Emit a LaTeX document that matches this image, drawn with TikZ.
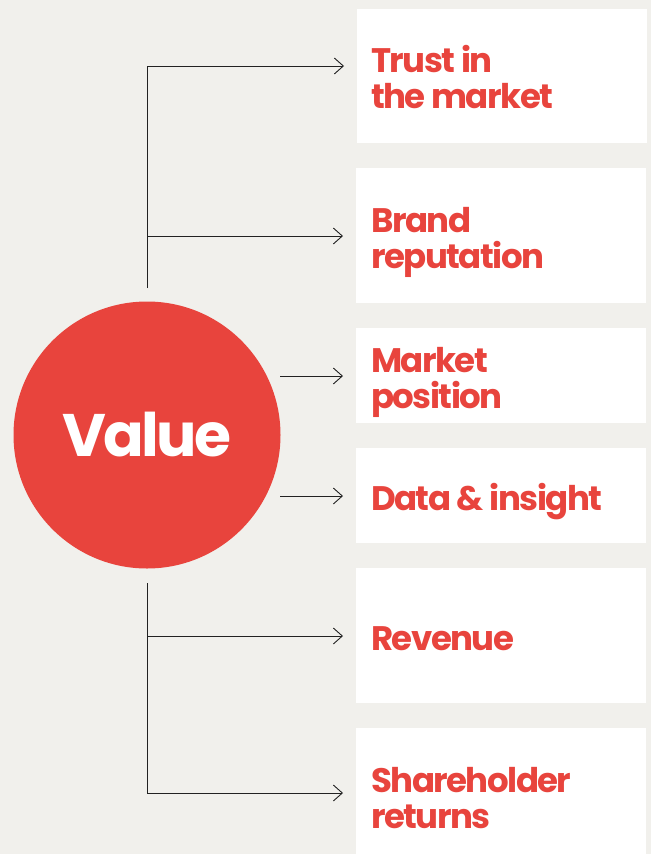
\documentclass[tikz,border=0pt]{standalone}
\usepackage{fontspec}
\setmainfont{Poppins}[LetterSpace=-4.5]
\usetikzlibrary{arrows.meta}
\definecolor{bg}{HTML}{F1F0EC}
\definecolor{vred}{HTML}{E8443D}
\definecolor{lnc}{HTML}{222222}
\tikzset{
  itembox/.style={fill=white, draw=none, anchor=north west, minimum width=290pt, inner sep=0pt},
  itemtext/.style={anchor=base west, inner sep=0pt, align=left, text=vred, font=\fontsize{34}{36}\selectfont\bfseries},
  link/.style={draw=lnc, line width=0.9pt, -{Straight Barb[length=9pt,width=16pt,line width=0.9pt]}},
  trunk/.style={draw=lnc, line width=0.9pt}
}
\begin{document}
\begin{tikzpicture}[x=1pt,y=-1pt]
\fill[bg] (0,0) rectangle (651,854);
\useasboundingbox (0,0) rectangle (651,854);
\begin{scope}
\clip (0,0) rectangle (651,854);
\node[itembox, minimum height=134pt] (b1) at (357,9) {};
\node[itembox, minimum height=135pt] (b2) at (356,168) {};
\node[itembox, minimum height=95pt] (b3) at (356,328) {};
\node[itembox, minimum height=95pt] (b4) at (356,448) {};
\node[itembox, minimum height=135pt] (b5) at (356,568) {};
\node[itembox, minimum height=140pt] (b6) at (356,728) {};
\end{scope}
\node[itemtext] (l1) at (371,108) {Trust in\\the market};
\node[itemtext] (l2) at (371,268) {Brand\\reputation};
\node[itemtext] (l3) at (371,408) {Market\\position};
\node[itemtext] (l4) at (371,510) {Data \& insight};
\node[itemtext] (l5) at (371,650) {Revenue};
\node[itemtext] (l6) at (371,828) {Shareholder\\returns};
\node[circle, fill=vred, minimum size=267pt, inner sep=0pt, text=white, font=\fontsize{60}{60}\selectfont\bfseries] (v) at (147,435) {Value};
\coordinate (t1) at (147,288);
\coordinate (t2) at (147,583);
\coordinate (j1) at (147,66);
\coordinate (j2) at (147,236);
\coordinate (j5) at (147,636);
\coordinate (j6) at (147,793);
\draw[trunk] (t1) -- (j1);
\draw[trunk] (t2) -- (j6);
\draw[link] (j1) -- ([xshift=-13pt]b1.west |- j1);
\draw[link] (j2) -- ([xshift=-13pt]b2.west |- j2);
\draw[link] (280,376) -- ([xshift=-13pt]b3.west |- 0,376);
\draw[link] (280,496) -- ([xshift=-13pt]b4.west |- 0,496);
\draw[link] (j5) -- ([xshift=-13pt]b5.west |- j5);
\draw[link] (j6) -- ([xshift=-13pt]b6.west |- j6);
\end{tikzpicture}
\end{document}
